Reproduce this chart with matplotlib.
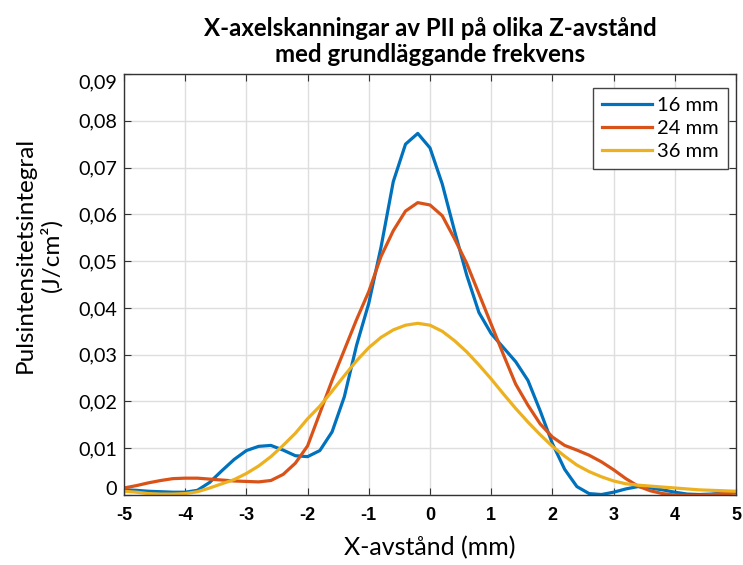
import numpy as np
import matplotlib
matplotlib.use('Agg')
import matplotlib.pyplot as plt
import matplotlib.transforms as mtransforms
from matplotlib.ticker import FuncFormatter

plt.rcParams['font.family'] = ['Lato', 'DejaVu Sans']

# scan positions along X (mm), 0.2 mm steps
x_mm = [-5.0, -4.8, -4.6, -4.4, -4.2, -4.0, -3.8, -3.6, -3.4, -3.2,
        -3.0, -2.8, -2.6, -2.4, -2.2, -2.0, -1.8, -1.6, -1.4, -1.2,
        -1.0, -0.8, -0.6, -0.4, -0.2, 0.0, 0.2, 0.4, 0.6, 0.8,
        1.0, 1.2, 1.4, 1.6, 1.8, 2.0, 2.2, 2.4, 2.6, 2.8,
        3.0, 3.2, 3.4, 3.6, 3.8, 4.0, 4.2, 4.4, 4.6, 4.8, 5.0]

# pulse intensity integral (J/cm^2) at each Z distance
pii_16mm = [0.0011, 0.0010, 0.0008, 0.0007, 0.0006, 0.0006, 0.0010, 0.0027, 0.0052, 0.0076,
            0.0095, 0.0104, 0.0106, 0.0096, 0.0084, 0.0082, 0.0095, 0.0135, 0.0210, 0.0320,
            0.0410, 0.0530, 0.0670, 0.0750, 0.0773, 0.0742, 0.0665, 0.0565, 0.0470, 0.0390,
            0.0345, 0.0315, 0.0285, 0.0245, 0.0180, 0.0110, 0.0055, 0.0018, 0.0003, 0.0001,
            0.0006, 0.0013, 0.0018, 0.0015, 0.0011, 0.0006, 0.0002, 0.0001, 0.0002, 0.0004, 0.0006]

pii_24mm = [0.0015, 0.0020, 0.0026, 0.0031, 0.0035, 0.0036, 0.0036, 0.0034, 0.0032, 0.0030,
            0.0029, 0.0028, 0.0031, 0.0044, 0.0068, 0.0105, 0.0175, 0.0245, 0.0310, 0.0375,
            0.0435, 0.0510, 0.0565, 0.0607, 0.0625, 0.0620, 0.0597, 0.0548, 0.0495, 0.0430,
            0.0365, 0.0300, 0.0237, 0.0192, 0.0152, 0.0124, 0.0106, 0.0096, 0.0085, 0.0071,
            0.0054, 0.0035, 0.0019, 0.0009, 0.0003, 0.0000, -0.0001, -0.0001, 0.0001, 0.0003, 0.0004]

pii_36mm = [0.0008, 0.0006, 0.0003, 0.0002, 0.0002, 0.0003, 0.0007, 0.0015, 0.0024, 0.0033,
            0.0046, 0.0062, 0.0082, 0.0106, 0.0132, 0.0163, 0.0190, 0.0222, 0.0255, 0.0287,
            0.0315, 0.0337, 0.0353, 0.0363, 0.0367, 0.0363, 0.0350, 0.0330, 0.0306, 0.0278,
            0.0248, 0.0216, 0.0185, 0.0156, 0.0129, 0.0104, 0.0083, 0.0064, 0.0050, 0.0039,
            0.0030, 0.0024, 0.0021, 0.0019, 0.0017, 0.0015, 0.0013, 0.0011, 0.0010, 0.0009, 0.0008]

series = [('16 mm', pii_16mm, '#0072BD'),
          ('24 mm', pii_24mm, '#D95319'),
          ('36 mm', pii_36mm, '#EDB120')]

x_ticks = [-5, -4, -3, -2, -1, 0, 1, 2, 3, 4, 5]
y_ticks = [0, 0.01, 0.02, 0.03, 0.04, 0.05, 0.06, 0.07, 0.08, 0.09]

fig = plt.figure(figsize=(7.43, 5.65), dpi=100)
ax = fig.add_axes([124 / 743, 1 - 495 / 565, (736 - 124) / 743, (495 - 74) / 565])

for name, vals, col in series:
    ax.plot(x_mm, vals, color=col, lw=2.3, label=name, solid_joinstyle='round')

ax.set_xlim(-5, 5)
ax.set_ylim(0, 0.09)
ax.set_xticks(x_ticks)
ax.set_yticks(y_ticks)
ax.grid(True, color='#dedede', lw=1)
ax.set_axisbelow(True)

ax.tick_params(direction='in', top=True, right=True, length=5, width=0.8, color='#333333')
for sp in ax.spines.values():
    sp.set_color('#333333')
    sp.set_linewidth(1)

# comma as decimal separator
ax.yaxis.set_major_formatter(FuncFormatter(lambda v, p: '0' if v == 0 else ('%.2f' % v).replace('.', ',')))
ax.xaxis.set_major_formatter(FuncFormatter(lambda v, p: '%d' % v))
for lab in ax.get_yticklabels():
    lab.set_fontsize(14.3)
for lab in ax.get_xticklabels():
    lab.set_fontsize(13)
    lab.set_fontweight('bold')
    lab.set_family('Liberation Sans')
ax.tick_params(axis='y', pad=5)
ax.tick_params(axis='x', pad=9)

# keep end labels inside the axis height
ylabs = ax.get_yticklabels()
ylabs[0].set_transform(ylabs[0].get_transform() + mtransforms.ScaledTranslation(0, 7 / 100, fig.dpi_scale_trans))
ylabs[-1].set_transform(ylabs[-1].get_transform() + mtransforms.ScaledTranslation(0, -7 / 100, fig.dpi_scale_trans))

ax.set_xlabel('X-avstånd (mm)', fontsize=18, labelpad=8)
ax.set_ylabel('Pulsintensitetsintegral\n(J/cm²)', fontsize=17.5, linespacing=1.25)
ax.yaxis.set_label_coords(-0.1, 0.57)
ax.set_title('X-axelskanningar av PII på olika Z-avstånd\nmed grundläggande frekvens',
             fontsize=17.3, fontweight='bold', pad=9, linespacing=1.15)

leg = ax.legend(loc='upper right', bbox_to_anchor=(0.987, 0.967), fontsize=14.5,
                fancybox=False, framealpha=1, edgecolor='#444444',
                handlelength=2.5, handletextpad=0.25, labelspacing=0.3,
                borderpad=0.45, borderaxespad=0)
leg.get_frame().set_linewidth(1)

fig.savefig('out.png', dpi=100)
